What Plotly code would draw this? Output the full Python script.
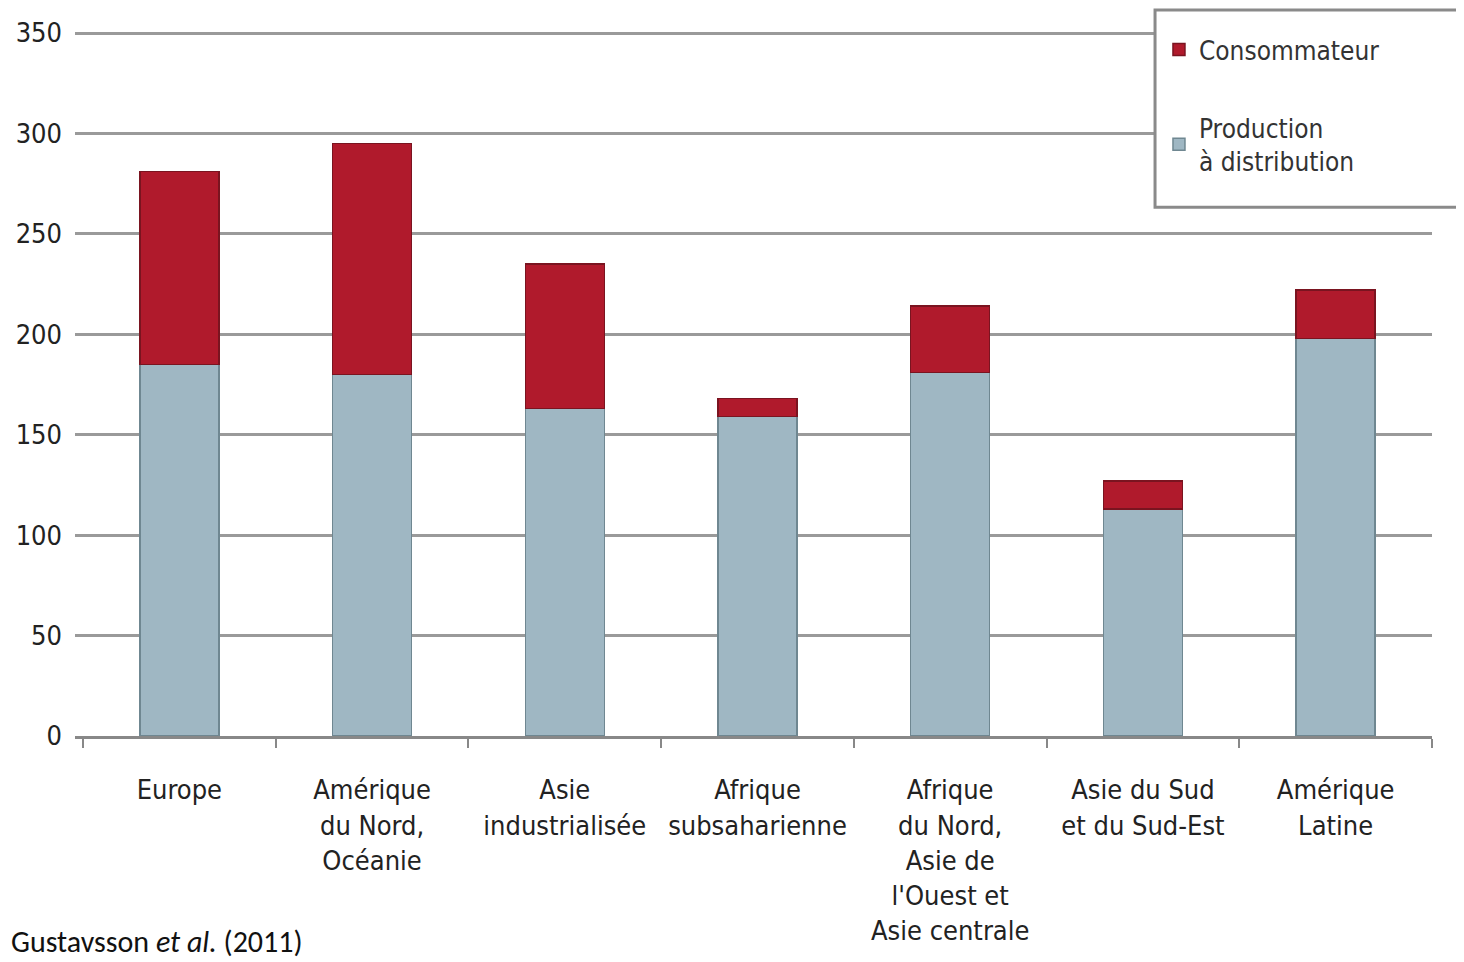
import plotly.graph_objects as go

categories = ["Europe", "Amérique<br>du Nord,<br>Océanie", "Asie<br>industrialisée",
              "Afrique<br>subsaharienne", "Afrique<br>du Nord,<br>Asie de<br>l'Ouest et<br>Asie centrale",
              "Asie du Sud<br>et du Sud-Est", "Amérique<br>Latine"]
production = [185, 180, 163, 159, 181, 113, 198]
consommateur = [96, 115, 72, 9, 33, 14, 24]
y_ticks = [0, 50, 100, 150, 200, 250, 300, 350]

font_main = "DejaVu Sans Condensed, Liberation Sans Narrow, sans-serif"

fig = go.Figure()
fig.add_trace(go.Bar(x=categories, y=production, name="Production<br>à distribution",
                     legendgroup="p", legendrank=2,
                     marker=dict(color="#9fb7c3", line=dict(color="#6f8791", width=1.5))))
fig.add_trace(go.Bar(x=categories, y=consommateur, name="Consommateur",
                     legendgroup="c", legendrank=1,
                     marker=dict(color="#b01a2c", line=dict(color="#7a1420", width=1.5))))

fig.update_layout(
    barmode="stack",
    bargap=0.59,
    width=1464, height=962,
    margin=dict(l=67, r=40, t=21, b=234, autoexpand=False),
    paper_bgcolor="white", plot_bgcolor="white",
    font=dict(family=font_main, size=27, color="#222"),
    showlegend=True,
    legend=dict(traceorder="grouped", x=0.7988, y=1.004, xanchor="left", yanchor="top",
                bgcolor="rgba(0,0,0,0)", borderwidth=0,
                font=dict(family=font_main, size=26, color="#333"),
                itemwidth=30, tracegroupgap=41, entrywidth=280),
)
# legend frame
fig.add_shape(type="rect", xref="paper", yref="paper", x0=0.7959, x1=1.1, y0=0.748, y1=1.0269,
              fillcolor="white", line=dict(color="#8a8a8a", width=3), layer="above")

fig.update_xaxes(range=[-0.5415, 6.5], tickson="boundaries", ticks="outside", ticklen=9,
                 tickcolor="#888", tickwidth=2, showline=True, linecolor="#888", linewidth=3,
                 showgrid=False, ticklabelstandoff=28, tickangle=0, automargin=False,
                 tickfont=dict(size=27, color="#222"))
fig.update_yaxes(range=[0, 352], tickvals=y_ticks, showgrid=True, gridcolor="#9a9a9a", gridwidth=3,
                 zeroline=False, showline=False, ticks="", ticklabelstandoff=12, automargin=False,
                 tickfont=dict(size=27, color="#222"))

fig.add_annotation(text="Gustavsson <i>et al.</i> (2011)", xref="paper", yref="paper",
                   x=-0.049, y=-0.291, xanchor="left", yanchor="middle", showarrow=False,
                   font=dict(family="Carlito, Open Sans, Liberation Sans, sans-serif", size=30, color="#111"))

fig.write_html("out.html")
